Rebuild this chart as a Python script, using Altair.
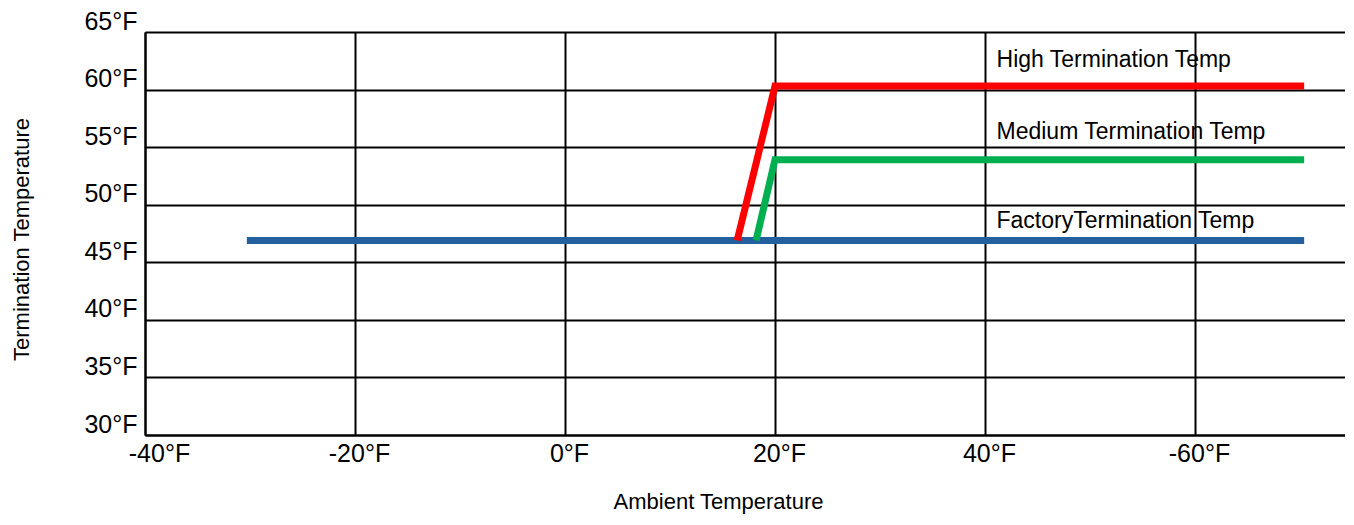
import altair as alt
import pandas as pd

# Series values (Ambient temp x, termination temp y)
factory_x = [-30.3, 70.4]
factory_y = [46.9, 46.9]
high_x = [16.4, 20, 70.4]
high_y = [46.9, 60.3, 60.3]
medium_x = [18.2, 20, 70.4]
medium_y = [46.9, 53.9, 53.9]

series_names = ["Factory", "High", "Medium"]
series_colors = ["#22609E", "#FF0000", "#00B050"]

# Annotations
ann_text = ["High Termination Temp", "Medium Termination Temp", "FactoryTermination Temp"]
ann_x = [41.1, 41.1, 41.1]
ann_y = [62.6, 56.35, 48.6]

# Axis ticks
x_tick_values = [-40, -20, 0, 20, 40, 60]
x_tick_labels = ["-40°F", "-20°F", "0°F", "20°F", "40°F", "-60°F"]
y_tick_values = [30, 35, 40, 45, 50, 55, 60, 65]
y_tick_labels = ["30°F", "35°F", "40°F", "45°F", "50°F", "55°F", "60°F", "65°F"]

rows = []
for name, xs, ys in [("Factory", factory_x, factory_y), ("High", high_x, high_y), ("Medium", medium_x, medium_y)]:
    for i, (xv, yv) in enumerate(zip(xs, ys)):
        rows.append({"series": name, "order": i, "x": xv, "y": yv})
df = pd.DataFrame(rows)
ann = pd.DataFrame({"text": ann_text, "x": ann_x, "y": ann_y})

def label_expr(values, labels):
    parts = " : ".join(f"datum.value == {v} ? '{l}'" for v, l in zip(values, labels))
    return parts + " : ''"

FONT = "Liberation Sans"

xscale = alt.Scale(domain=[-40, 74.29], nice=False, zero=False)
yscale = alt.Scale(domain=[30, 65], nice=False, zero=False)

lines = alt.Chart(df).mark_line(strokeWidth=7, strokeCap="butt", strokeJoin="miter", clip=True).encode(
    x=alt.X("x:Q", scale=xscale, axis=alt.Axis(
        values=x_tick_values, labelExpr=label_expr(x_tick_values, x_tick_labels),
        title="Ambient Temperature", titleFont=FONT, titleFontSize=22, titleFontWeight="normal",
        titleX=573, titleY=73, titleBaseline="alphabetic", titleAlign="center",
        labelFont=FONT, labelFontSize=25, labelColor="black", labelPadding=6,
        labelOffset={"condition": {"test": "datum.value == -40", "value": 14}, "value": 4},
        ticks=False, domainColor="black", domainWidth=2, grid=True, gridColor="black", gridWidth=2,
        labelFlush=False)),
    y=alt.Y("y:Q", scale=yscale, axis=alt.Axis(
        values=y_tick_values, labelExpr=label_expr(y_tick_values, y_tick_labels),
        title="Termination Temperature", titleFont=FONT, titleFontSize=22, titleFontWeight="normal",
        titleX=-124, titleY=207, titleAngle=-90, titleAlign="center", titleBaseline="middle",
        labelFont=FONT, labelFontSize=25, labelColor="black", labelPadding=8, labelOffset=-11,
        ticks=False, domainColor="black", domainWidth=2, grid=True, gridColor="black", gridWidth=2,
        labelFlush=False)),
    color=alt.Color("series:N", scale=alt.Scale(domain=series_names, range=series_colors), legend=None),
    order="order:Q",
)

text = alt.Chart(ann).mark_text(align="left", baseline="middle", font=FONT, fontSize=23, color="black").encode(
    x=alt.X("x:Q", scale=xscale),
    y=alt.Y("y:Q", scale=yscale),
    text="text:N",
)

chart = alt.layer(lines, text).properties(
    width=1200, height=403,
    autosize=alt.AutoSizeParams(type="none"),
    padding={"left": 137, "top": 24, "right": 0, "bottom": 82},
).configure_view(stroke=None).configure(background="white")

chart.save("out.html", embed_options={"renderer": "svg", "actions": False})
